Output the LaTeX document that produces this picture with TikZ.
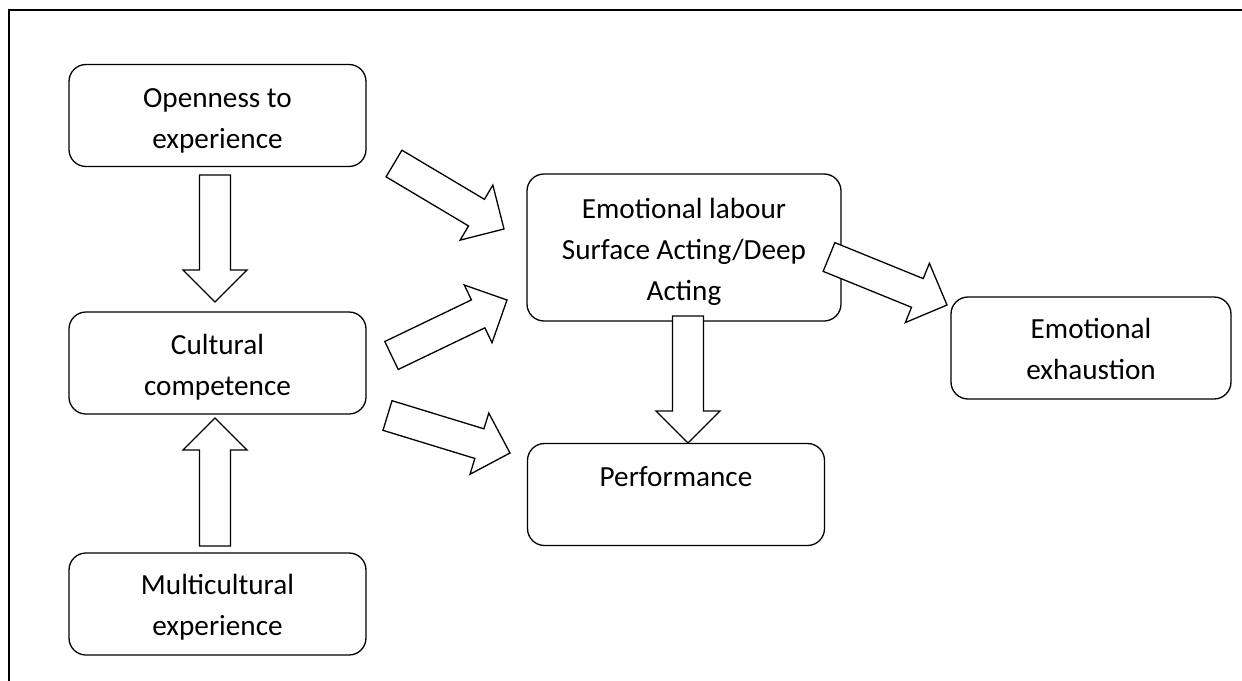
\documentclass[tikz,border=0pt]{standalone}
\usepackage{fontspec}
\usepackage{tikz}
\usetikzlibrary{calc}
\newfontfamily\boxfont{Carlito}

% block arrow sizes
\def\shaftw{7.75pt}
\def\headw{16pt}
\def\headlen{16pt}
\newcommand{\blockarrow}[2]{%
  \draw[blockarr] ($(#1)!\shaftw!90:(#2)$)
    -- ($(#2)!\headlen!(#1)!\shaftw!90:(#2)$)
    -- ($(#2)!\headlen!(#1)!\headw!90:(#2)$)
    -- (#2)
    -- ($(#2)!\headlen!(#1)!\headw!-90:(#2)$)
    -- ($(#2)!\headlen!(#1)!\shaftw!-90:(#2)$)
    -- ($(#1)!\shaftw!-90:(#2)$) -- cycle;}

\tikzset{
  box/.style={draw, rounded corners=8.5pt, line width=0.65pt,
    minimum width=148.5pt, minimum height=51pt, inner sep=0pt},
  boxtext/.style={anchor=base, inner sep=0pt,
    font=\boxfont\fontsize{14.6pt}{20.5pt}\selectfont},
  blockarr/.style={draw, fill=white, line width=0.65pt, line join=miter},
}

\begin{document}
\begin{tikzpicture}[x=0.5pt, y=-0.5pt]
  \useasboundingbox (0,0) rectangle (1242,680);
  \clip (0,0) rectangle (1242,680);
  \draw[line width=1pt] (9,10) rectangle (1270,710);

  % boxes
  \node[box] (open) at (217.5,115.5) {};
  \node[box, minimum height=51pt] (cult) at (217.5,363) {};
  \node[box] (multi) at (217.5,604) {};
  \node[box, minimum width=157pt, minimum height=73.5pt] (elab) at (684,247.5) {};
  \node[box] (perf) at (676,494.5) {};
  \node[box, minimum width=140pt] (exh) at (1091,348) {};

  % texts
  \node[boxtext] (openT) at ($(open.north)+(0,44)$)
    {\parbox[t]{148pt}{\centering Openness to\\experience}};
  \node[boxtext] (cultT) at ($(cult.north)+(0,43)$)
    {\parbox[t]{148pt}{\centering Cultural\\competence}};
  \node[boxtext] (multiT) at ($(multi.north)+(0,42)$)
    {\parbox[t]{148pt}{\centering Multicultural\\experience}};
  \node[boxtext] (elabT) at ($(elab.north)+(0,45)$)
    {\parbox[t]{156pt}{\centering Emotional labour\\Surface Acting/Deep\\Acting}};
  \node[boxtext] (perfT) at ($(perf.north)+(0,44)$) {Performance};
  \node[boxtext] (exhT) at ($(exh.north)+(0,42)$)
    {\parbox[t]{140pt}{\centering Emotional\\exhaustion}};

  % arrow ends
  \coordinate (oc1) at (215,175);   \coordinate (oc2) at (215,302);
  \coordinate (mc1) at (215,546);   \coordinate (mc2) at (215,418);
  \coordinate (oe1) at (394,163.5); \coordinate (oe2) at (504,229);
  \coordinate (ce1) at (391.5,355.5); \coordinate (ce2) at (507,300);
  \coordinate (cp1) at (387.5,415.5); \coordinate (cp2) at (510,453);
  \coordinate (ex1) at (829,257);   \coordinate (ex2) at (947,305);
  \coordinate (ep1) at (688,316);   \coordinate (ep2) at (688,443);

  \foreach \a in {oc,mc,oe,ce,cp,ex,ep}
    \blockarrow{\a1}{\a2};
\end{tikzpicture}
\end{document}
